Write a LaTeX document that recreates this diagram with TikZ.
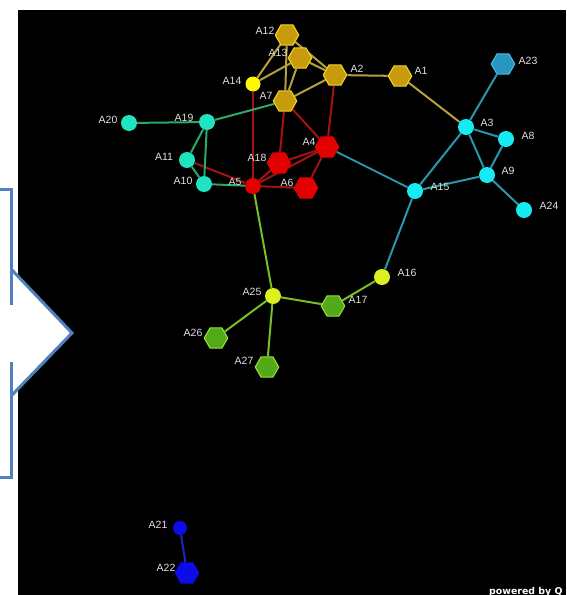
\documentclass[tikz,border=0pt]{standalone}
\usepackage{fontspec}
\setmainfont{Liberation Sans}
\newfontfamily\creditfont{DejaVu Sans}
\usetikzlibrary{shapes.geometric}

% node fills and outlines
\definecolor{goldfill}{RGB}{200,155,12}
\definecolor{goldline}{RGB}{236,212,40}
\definecolor{goldedge}{RGB}{182,160,62}
\definecolor{redfill}{RGB}{226,0,0}
\definecolor{rededge}{RGB}{165,18,18}
\definecolor{aquafill}{RGB}{32,228,192}
\definecolor{greenedge}{RGB}{42,170,102}
\definecolor{cyanfill}{RGB}{22,234,242}
\definecolor{tealedge}{RGB}{42,150,172}
\definecolor{tealfill}{RGB}{40,150,192}
\definecolor{tealline}{RGB}{70,190,222}
\definecolor{limefill}{RGB}{218,240,32}
\definecolor{limeedge}{RGB}{120,190,40}
\definecolor{leaffill}{RGB}{82,170,22}
\definecolor{leafline}{RGB}{150,222,62}
\definecolor{sunfill}{RGB}{255,248,0}
\definecolor{bluefill}{RGB}{12,12,232}
\definecolor{blueedge}{RGB}{34,34,196}
\definecolor{labelgray}{RGB}{225,225,225}
\definecolor{arrowblue}{RGB}{79,129,189}

\pgfdeclarelayer{back}
\pgfdeclarelayer{links}
\pgfsetlayers{back,links,main}

\tikzset{
  hexnode/.style={regular polygon, regular polygon sides=6, minimum size=23.5pt,
                  inner sep=0pt, line width=1.1pt},
  dotnode/.style={circle, minimum size=16pt, inner sep=0pt},
  goldhex/.style={hexnode, fill=goldfill, draw=goldline},
  redhex/.style={hexnode, fill=redfill, draw=redfill},
  reddot/.style={dotnode, fill=redfill},
  aquadot/.style={dotnode, fill=aquafill},
  cyandot/.style={dotnode, fill=cyanfill},
  tealhex/.style={hexnode, fill=tealfill, draw=tealline},
  limedot/.style={dotnode, fill=limefill},
  leafhex/.style={hexnode, fill=leaffill, draw=leafline},
  sundot/.style={dotnode, minimum size=15pt, fill=sunfill},
  bluedot/.style={dotnode, minimum size=14pt, fill=bluefill},
  bluehex/.style={hexnode, fill=bluefill, draw=bluefill},
  lbl/.style={text=labelgray, font=\fontsize{10.5}{12}\selectfont, inner sep=0pt},
  link/.style={line width=2pt},
  goldlink/.style={link, draw=goldedge},
  redlink/.style={link, draw=rededge},
  greenlink/.style={link, draw=greenedge},
  teallink/.style={link, draw=tealedge},
  limelink/.style={link, draw=limeedge},
  bluelink/.style={link, draw=blueedge},
}

\begin{document}
\begin{tikzpicture}[x=1pt,y=-1pt]
\useasboundingbox (0,0) rectangle (566,595);

\begin{pgfonlayer}{back}
  \fill[white] (0,0) rectangle (566,595);
  \fill[black] (18,10) rectangle (566,595);
\end{pgfonlayer}

% block arrow outline at the left edge
\fill[white] (12,270) -- (72,333) -- (12,395) -- cycle;
\draw[arrowblue, line width=3pt, line join=miter]
  (12,270) -- (72,333) -- (12,395);
\draw[arrowblue, line width=3pt, line join=miter]
  (0,189) -- (11.5,189) -- (11.5,305);
\draw[arrowblue, line width=3pt, line join=miter]
  (11.5,362) -- (11.5,477) -- (0,477);

% network nodes
\node[goldhex] (A12) at (287,35) {};
\node[goldhex] (A13) at (300,58) {};
\node[goldhex] (A2)  at (335,75) {};
\node[goldhex] (A1)  at (400,76) {};
\node[goldhex] (A7)  at (285,101) {};
\node[sundot]  (A14) at (253,84) {};

\node[redhex]  (A4)  at (327,147) {};
\node[redhex]  (A18) at (279,163) {};
\node[redhex]  (A6)  at (306,188) {};
\node[reddot]  (A5)  at (253,186) {};

\node[aquadot] (A20) at (129,123) {};
\node[aquadot] (A19) at (207,122) {};
\node[aquadot] (A11) at (187,160) {};
\node[aquadot] (A10) at (204,184) {};

\node[tealhex] (A23) at (503,64) {};
\node[cyandot] (A3)  at (466,127) {};
\node[cyandot] (A8)  at (506,139) {};
\node[cyandot] (A9)  at (487,175) {};
\node[cyandot] (A24) at (524,210) {};
\node[cyandot] (A15) at (415,191) {};

\node[limedot] (A16) at (382,277) {};
\node[limedot] (A25) at (273,296) {};
\node[leafhex] (A17) at (333,306) {};
\node[leafhex] (A26) at (216,338) {};
\node[leafhex] (A27) at (267,367) {};

\node[bluedot] (A21) at (180,528) {};
\node[bluehex] (A22) at (187,573) {};

% node labels
\node[lbl] (tA12) at (265,31) {A12};
\node[lbl] (tA13) at (278,53) {A13};
\node[lbl] (tA2)  at (357,69) {A2};
\node[lbl] (tA1)  at (421,71) {A1};
\node[lbl] (tA14) at (232,81) {A14};
\node[lbl] (tA7)  at (266,96) {A7};
\node[lbl] (tA20) at (108,120) {A20};
\node[lbl] (tA19) at (184,118) {A19};
\node[lbl] (tA11) at (164,157) {A11};
\node[lbl] (tA10) at (183,181) {A10};
\node[lbl] (tA5)  at (235,182) {A5};
\node[lbl] (tA4)  at (309,142) {A4};
\node[lbl] (tA18) at (257,158) {A18};
\node[lbl] (tA6)  at (287,183) {A6};
\node[lbl] (tA23) at (528,61) {A23};
\node[lbl] (tA3)  at (487,123) {A3};
\node[lbl] (tA8)  at (528,136) {A8};
\node[lbl] (tA9)  at (508,171) {A9};
\node[lbl] (tA24) at (549,206) {A24};
\node[lbl] (tA15) at (440,187) {A15};
\node[lbl] (tA16) at (407,273) {A16};
\node[lbl] (tA25) at (252,292) {A25};
\node[lbl] (tA17) at (358,300) {A17};
\node[lbl] (tA26) at (193,333) {A26};
\node[lbl] (tA27) at (244,361) {A27};
\node[lbl] (tA21) at (158,525) {A21};
\node[lbl] (tA22) at (166,568) {A22};

\node[anchor=base west, inner sep=0pt, text=white,
      font=\creditfont\bfseries\fontsize{9.4}{10}\selectfont] (credit) at (489,594) {powered by Q};

% links
\begin{pgfonlayer}{links}
  \draw[goldlink] (A14) -- (A12);
  \draw[goldlink] (A14) -- (A13);
  \draw[goldlink] (A12) -- (A7);
  \draw[goldlink] (A13) -- (A7);
  \draw[goldlink] (A12) -- (A2);
  \draw[goldlink] (A13) -- (A2);
  \draw[goldlink] (A7) -- (A2);
  \draw[goldlink] (A2) -- (A1);
  \draw[goldlink] (A1) -- (A3);

  \draw[redlink] (A14) -- (A5);
  \draw[redlink] (A7) -- (A18);
  \draw[redlink] (A7) -- (A4);
  \draw[redlink] (A2) -- (A4);
  \draw[redlink] (A4) -- (A18);
  \draw[redlink] (A4) -- (A6);
  \draw[redlink] (A5) -- (A18);
  \draw[redlink] (A5) -- (A4);
  \draw[redlink] (A5) -- (A6);
  \draw[redlink] (A11) -- (A5);

  \draw[greenlink] (A20) -- (A19);
  \draw[greenlink] (A19) -- (A7);
  \draw[greenlink] (A19) -- (A11);
  \draw[greenlink] (A19) -- (A10);
  \draw[greenlink] (A11) -- (A10);
  \draw[greenlink] (A10) -- (A5);

  \draw[teallink] (A4) -- (A15);
  \draw[teallink] (A15) -- (A3);
  \draw[teallink] (A3) -- (A23);
  \draw[teallink] (A3) -- (A8);
  \draw[teallink] (A3) -- (A9);
  \draw[teallink] (A8) -- (A9);
  \draw[teallink] (A9) -- (A24);
  \draw[teallink] (A15) -- (A9);
  \draw[teallink] (A15) -- (A16);

  \draw[limelink] (A5) -- (A25);
  \draw[limelink] (A25) -- (A17);
  \draw[limelink] (A17) -- (A16);
  \draw[limelink] (A25) -- (A26);
  \draw[limelink] (A25) -- (A27);

  \draw[bluelink] (A21) -- (A22);
\end{pgfonlayer}
\end{tikzpicture}
\end{document}
